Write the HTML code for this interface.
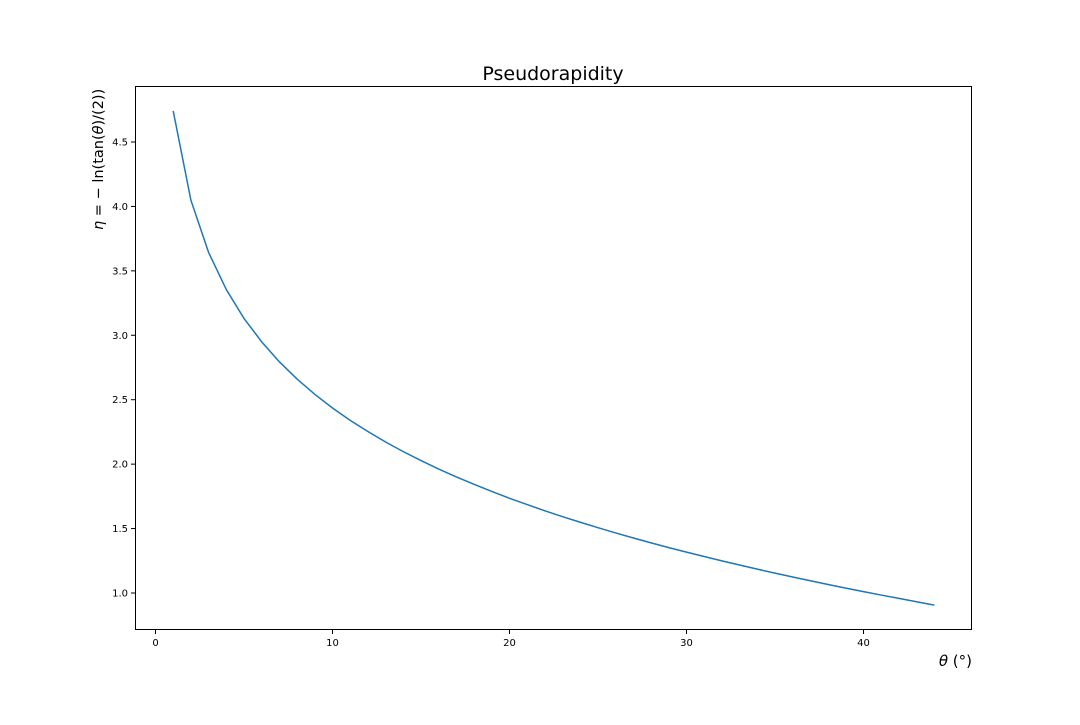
<!DOCTYPE html>
<html><head><meta charset="utf-8"><style>
html,body{margin:0;padding:0;background:#fff;}
svg text{font-family:"DejaVu Sans","Liberation Sans",sans-serif;}
</style></head><body>
<svg id="chart" width="1080" height="720" xmlns="http://www.w3.org/2000/svg">
<rect x="0" y="0" width="1080" height="720" fill="#fff"/>
<text x="553" y="80" font-size="19" text-anchor="middle">Pseudorapidity</text>
<text transform="translate(103,230) rotate(-90)" font-size="14.5" text-anchor="start"><tspan font-style="italic">η</tspan> = − ln(tan(<tspan font-style="italic">θ</tspan>)/(2))</text>
<text x="972" y="666" font-size="15" text-anchor="end"><tspan font-style="italic">θ</tspan> (°)</text>
<g id="xticks"></g>
<g id="yticks"></g>
<path id="line" fill="none" stroke="#1f77b4" stroke-width="1.5"/>
<rect x="135.5" y="86.5" width="836" height="543" fill="none" stroke="#000" stroke-width="1"/>
</svg>
<script>
const thetaValues = [1,2,3,4,5,6,7,8,9,10,11,12,13,14,15,16,17,18,19,20,21,22,23,24,25,26,27,28,29,30,31,32,33,34,35,36,37,38,39,40,41,42,43,44];
const etaValues = [4.741,4.048,3.643,3.355,3.131,2.949,2.794,2.660,2.542,2.436,2.340,2.253,2.172,2.097,2.028,1.962,1.901,1.843,1.788,1.735,1.686,1.638,1.592,1.549,1.507,1.466,1.427,1.389,1.352,1.317,1.283,1.249,1.217,1.185,1.154,1.124,1.095,1.066,1.038,1.011,0.984,0.958,0.932,0.906];
const xTickValues = [0,10,20,30,40];
const yTickValues = [1.0,1.5,2.0,2.5,3.0,3.5,4.0,4.5];
const yTickLabels = ["1.0","1.5","2.0","2.5","3.0","3.5","4.0","4.5"];

const xs = v => 155.5 + v * 17.7;
const ys = v => 593 - (v - 1.0) * 128.86;
const NS = "http://www.w3.org/2000/svg";
const xg = document.getElementById('xticks');
xTickValues.forEach(v => {
  const l = document.createElementNS(NS,'line');
  l.setAttribute('x1',xs(v));l.setAttribute('x2',xs(v));l.setAttribute('y1',630);l.setAttribute('y2',634);
  l.setAttribute('stroke','#000');
  
  
  xg.appendChild(l);
  const t = document.createElementNS(NS,'text');
  t.setAttribute('x',xs(v));t.setAttribute('y',646);t.setAttribute('font-size','10');t.setAttribute('text-anchor','middle');
  t.textContent = String(v);
  
  
  xg.appendChild(t);
});
const yg = document.getElementById('yticks');
yTickValues.forEach((v,i) => {
  const l = document.createElementNS(NS,'line');
  l.setAttribute('x1',131);l.setAttribute('x2',135);l.setAttribute('y1',ys(v));l.setAttribute('y2',ys(v));
  l.setAttribute('stroke','#000');
  
  
  yg.appendChild(l);
  const t = document.createElementNS(NS,'text');
  t.setAttribute('x',128);t.setAttribute('y',ys(v)+3.5);t.setAttribute('font-size','10');t.setAttribute('text-anchor','end');
  t.textContent = yTickLabels[i];
  
  
  yg.appendChild(t);
});
document.getElementById('line').setAttribute('d', thetaValues.map((x,i)=>(i?'L':'M')+xs(x).toFixed(2)+','+ys(etaValues[i]).toFixed(2)).join(' '));
</script>
</body></html>
